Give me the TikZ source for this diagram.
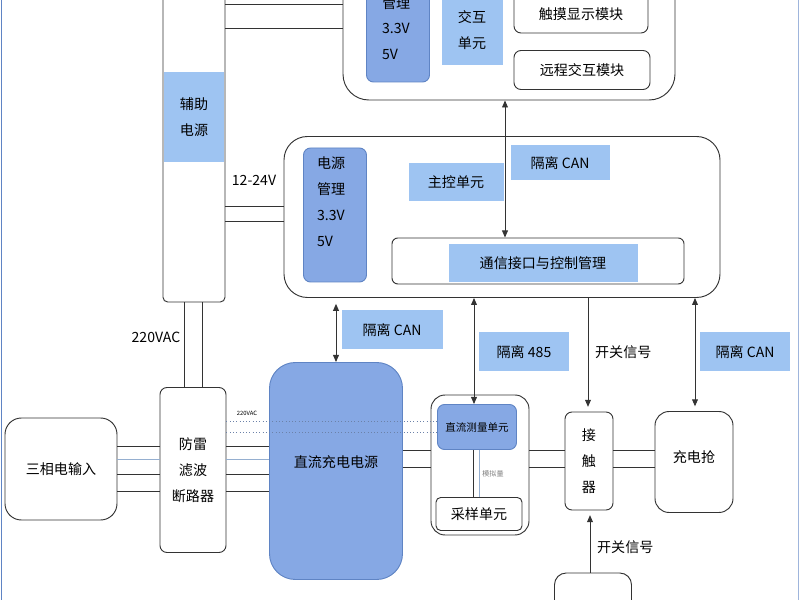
\documentclass[tikz,border=0pt]{standalone}
\usepackage{fontspec}
\setmainfont{Noto Sans CJK SC}
\usetikzlibrary{arrows.meta, positioning}

\definecolor{darkblue}{HTML}{86A8E4}
\definecolor{lightblue}{HTML}{9EC4F2}
\definecolor{edgeblue}{HTML}{5F84C4}

\tikzset{
  sz/.style 2 args={minimum width=#1*0.03cm, minimum height=#2*0.03cm},
  box/.style={draw=black!80, thick, rounded corners=6pt, fill=white, inner sep=0pt, align=center},
  dark/.style={draw=edgeblue, thick, rounded corners=6pt, fill=darkblue, inner sep=0pt, align=center},
  lab/.style={fill=lightblue, inner sep=0pt, align=center},
  tall/.style={font=\fontsize{12}{22}\selectfont, align=left},
  wire/.style={black!80, thick},
  thin wire/.style={lightblue!70!gray, thick},
  sig/.style={black!80, thick, -{Triangle[length=6pt,width=5pt]}},
  bisig/.style={black!80, thick, {Triangle[length=6pt,width=5pt]}-{Triangle[length=6pt,width=5pt]}}
}

\begin{document}
\begin{tikzpicture}[x=0.03cm, y=-0.03cm, font=\fontsize{12}{15}\selectfont]
  \useasboundingbox (0,0) rectangle (800,600);
  \draw[edgeblue, thick] (1,0) -- (1,600);
  \draw[edgeblue!60, thick] (798,0) -- (798,600);

  % auxiliary power column
  \node[box, sz={62}{330}, rounded corners=4pt] (aux) at (194,137) {};
  \node[lab, sz={60}{90}, tall] (auxlab) at (194,117) {辅助\\电源};

  % top (interaction) board
  \node[box, sz={332}{160}, rounded corners=22pt] (top) at (509,20) {};
  \node[dark, sz={63}{120}] (pmtop) at (398,22) {};
  \node[tall, anchor=north west] (pmtoptxt) at (378,-8) {管理\\3.3V\\5V};
  \node[lab, sz={61}{110}] (hmi) at (472,10) {};
  \node[tall] (hmitxt) at (472,17) {人机\\交互\\单元};
  \node[box, sz={134}{60}] (touch) at (581,3) {};
  \node (touchtxt) at (581,14) {触摸显示模块};
  \node[box, sz={136}{39}] (remote) at (582,70) {远程交互模块};

  % main control board
  \node[box, sz={436}{161}, rounded corners=20pt] (main) at (502,217) {};
  \node[dark, sz={63}{134}] (pm) at (335,215) {};
  \node[tall, anchor=north west] (pmtxt) at (313,153) {电源\\管理\\3.3V\\5V};
  \node[lab, sz={95}{38}] (mcu) at (456,182) {主控单元};
  \node[lab, sz={99}{35}] (can1) at (560,163) {隔离 CAN};
  \node[box, sz={292}{46}, rounded corners=5pt] (comm) at (538,261) {};
  \node[lab, sz={189}{38}] (commlab) at (543,263) {通信接口与控制管理};

  % power path
  \node[box, sz={112}{102}, rounded corners=14pt] (ac3) at (61,469) {三相电输入};
  \node[box, sz={66}{165}, tall, align=center] (brk) at (193,470) {防雷\\滤波\\断路器};
  \node[dark, sz={133}{217}, rounded corners=22pt] (dc) at (336,471) {};
  \node (dctxt) at (336,462) {直流充电电源};
  \node[box, sz={98}{140}, rounded corners=12pt] (meas) at (480,465) {};
  \node[dark, sz={79}{45}, font=\fontsize{9}{11}\selectfont] (dcm) at (477,427) {直流测量单元};
  \node[box, sz={86}{33}, rounded corners=4pt] (samp) at (479,514) {采样单元};
  \node[box, sz={48}{98}, tall, align=center] (ktr) at (589,461) {接\\触\\器};
  \node[box, sz={78}{101}, rounded corners=12pt] (gun) at (694,462) {};
  \node (guntxt) at (694,457) {充电抢};
  \node[box, sz={77}{60}, rounded corners=10pt] (bot) at (593,603) {};

  % wires
  \foreach \y in {4,28}
    \draw[wire] (aux.east |- 0,\y) -- (top.west |- 0,\y);
  \foreach \y in {206,221}
    \draw[wire] (aux.east |- 0,\y) -- (main.west |- 0,\y);
  \foreach \x in {184,202}
    \draw[wire] (aux.south -| \x,0) -- (brk.north -| \x,0);
  \foreach \y/\s in {446/wire,459/thin wire,474/wire,491/wire} {
    \draw[\s] (ac3.east |- 0,\y) -- (brk.west |- 0,\y);
    \draw[\s] (brk.east |- 0,\y) -- (dc.west |- 0,\y);
  }
  \foreach \y in {421,432}
    \draw[edgeblue!60!gray, thick, dotted] (brk.east |- 0,\y) -- (dcm.west |- 0,\y);
  \foreach \y in {450,467} {
    \draw[wire] (dc.east |- 0,\y) -- (meas.west |- 0,\y);
    \draw[wire] (meas.east |- 0,\y) -- (ktr.west |- 0,\y);
    \draw[wire] (ktr.east |- 0,\y) -- (gun.west |- 0,\y);
  }
  \draw[wire] (dcm.south -| 473,0) -- (samp.north -| 473,0);
  \draw[thin wire] (dcm.south -| 479,0) -- (samp.north -| 479,0);

  % signals
  \draw[bisig] (top.south -| 505,0) -- (comm.north -| 505,0);
  \draw[bisig] ([yshift=-5pt]main.south -| 336,0) -- (dc.north -| 336,0);
  \draw[bisig] (main.south -| 474,0) -- (dcm.north -| 474,0);
  \draw[sig] (main.south -| 588,0) -- ([yshift=4pt]ktr.north -| 588,0);
  \draw[bisig] (main.south -| 695,0) -- ([yshift=4pt]gun.north -| 695,0);
  \draw[sig] (bot.north -| 590,0) -- ([yshift=-4pt]ktr.south -| 590,0);

  % labels
  \node[lab, sz={101}{39}] (can2) at (392,330) {隔离 CAN};
  \node[lab, sz={90}{39}] (rs485) at (524,352) {隔离 485};
  \node[lab, sz={90}{39}] (can3) at (745,352) {隔离 CAN};
  \node[right] (sw1) at (591,352) {开关信号};
  \node[right] (sw2) at (593,547) {开关信号};
  \node (v24) at (254,180) {12-24V};
  \node (vac) at (156,337) {220VAC};
  \node[font=\fontsize{5}{6}\selectfont] (vac2) at (247,413) {220VAC};
  \node[font=\fontsize{6}{7}\selectfont, gray] (ana) at (493,474) {模拟量};
\end{tikzpicture}
\end{document}
